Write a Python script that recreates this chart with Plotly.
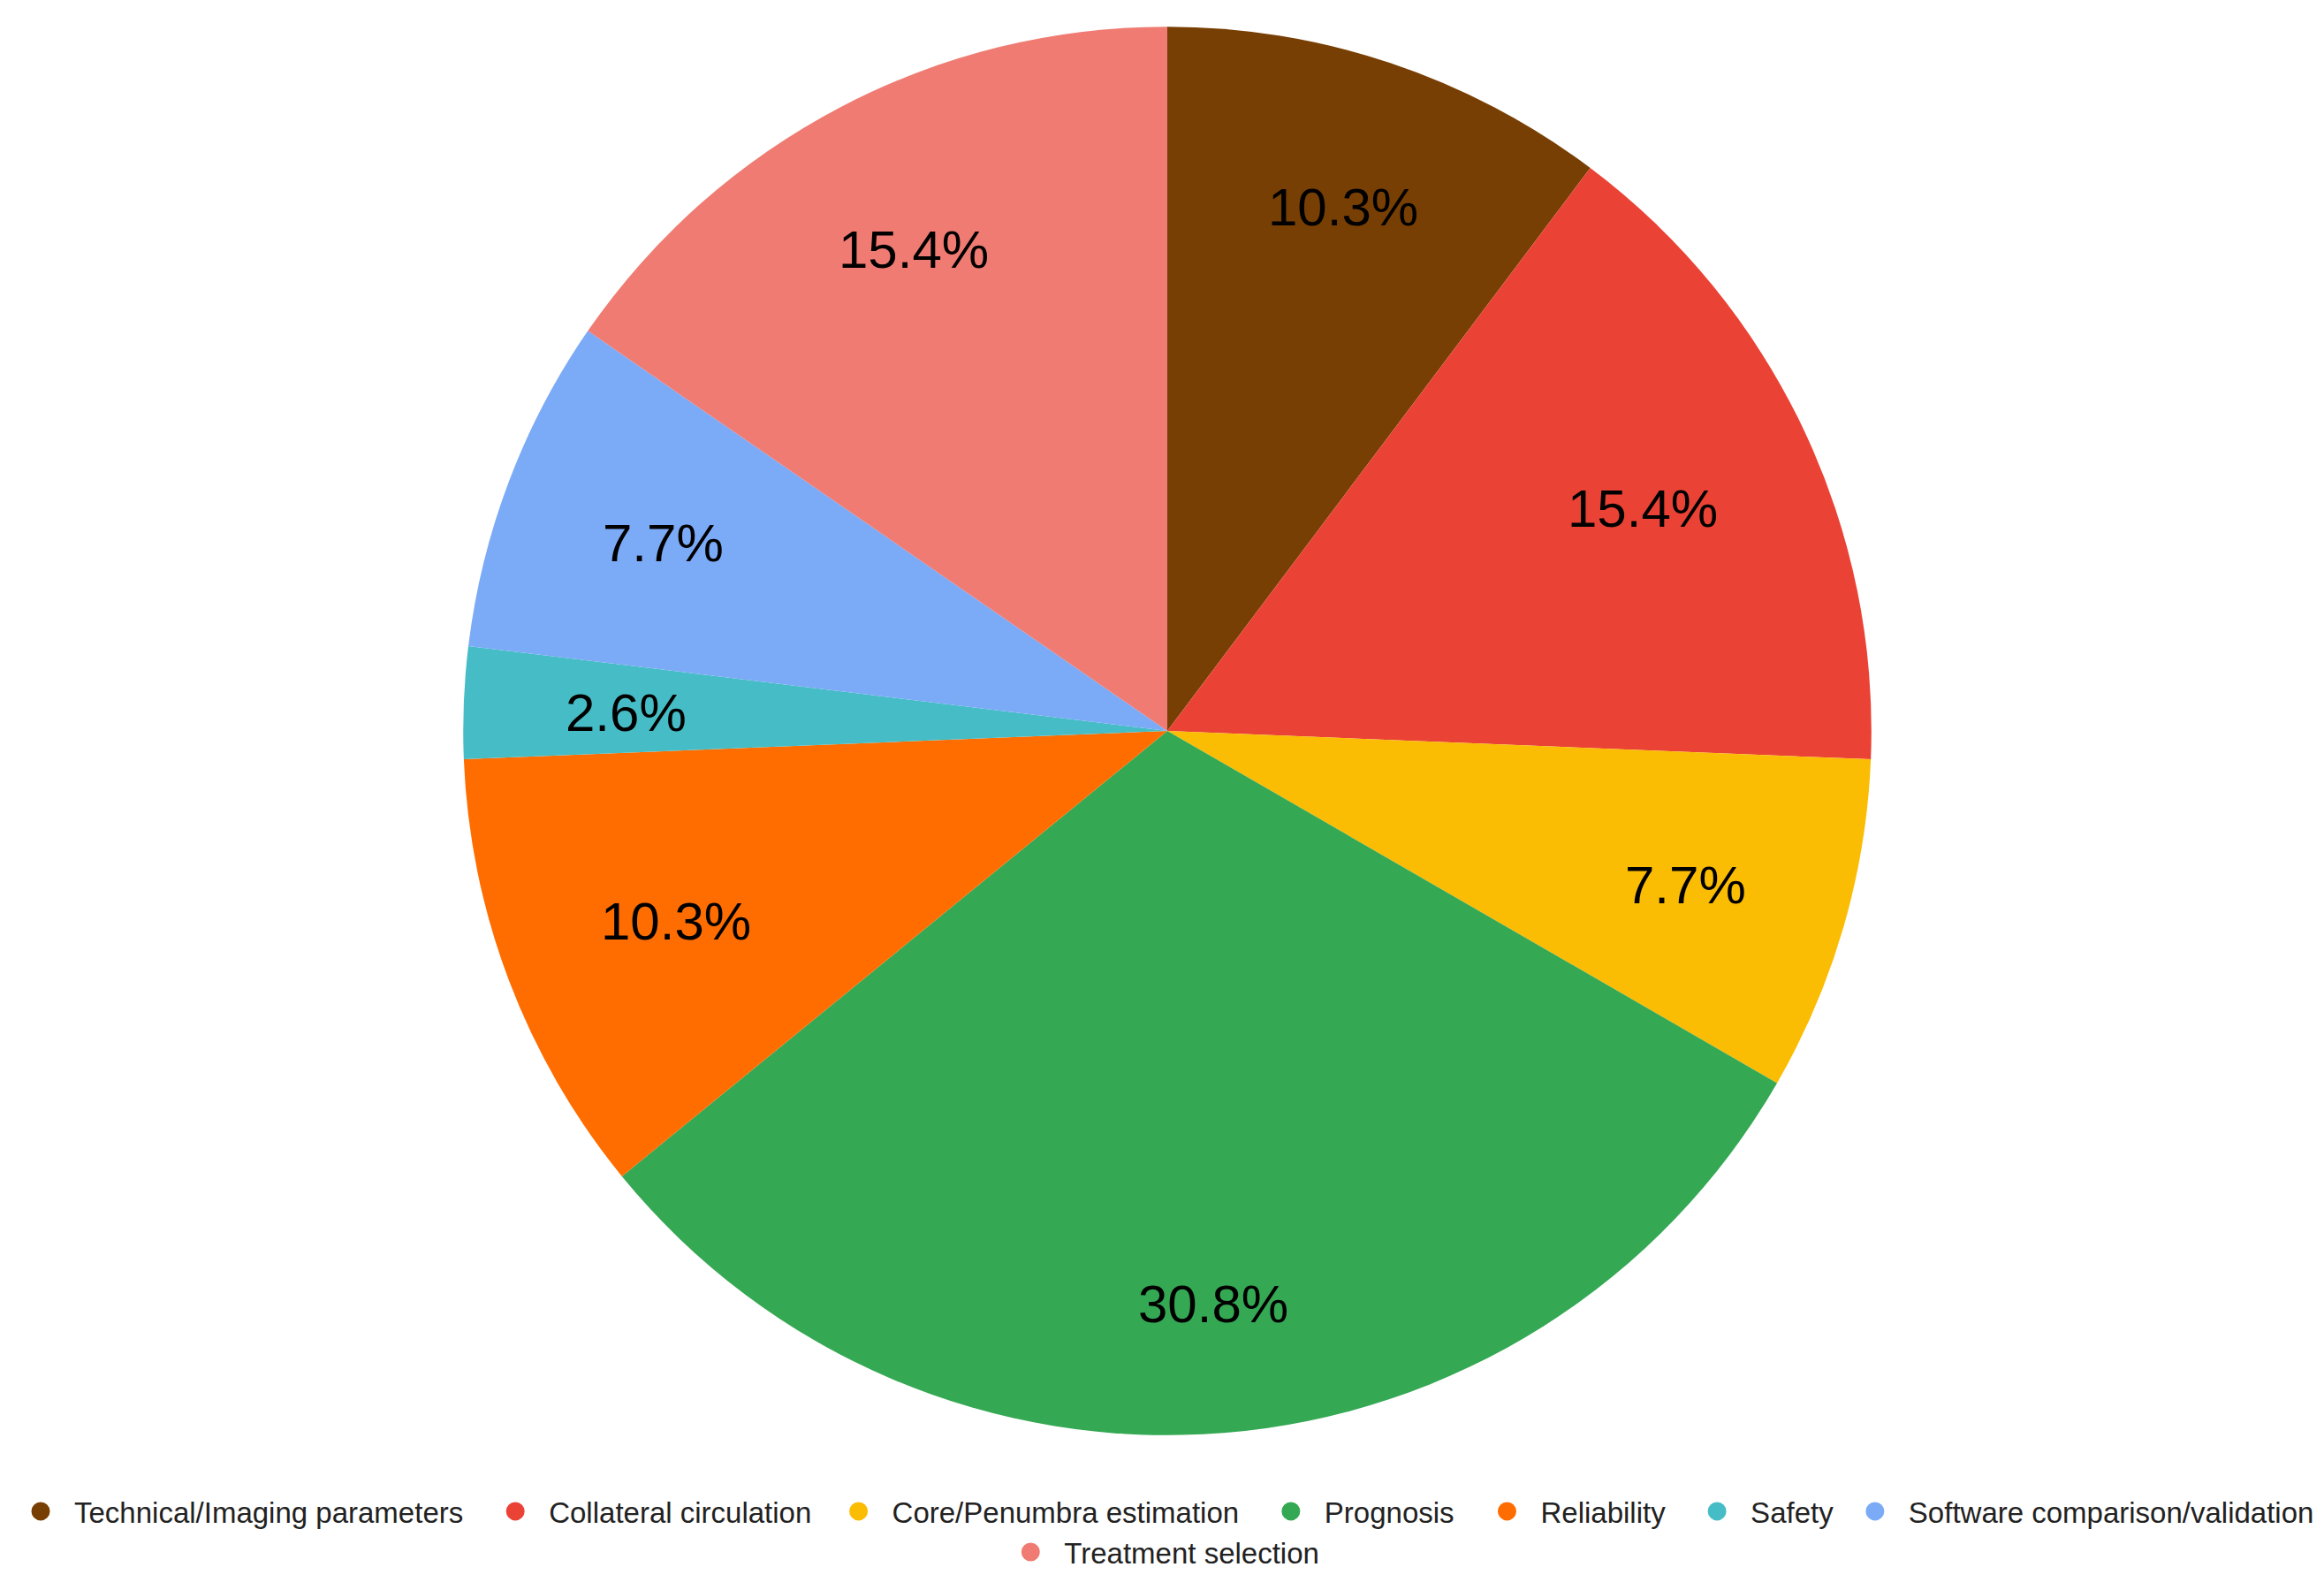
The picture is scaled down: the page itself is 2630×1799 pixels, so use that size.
import math
import plotly.graph_objects as go

categories = ["Technical/Imaging parameters", "Collateral circulation", "Core/Penumbra estimation",
              "Prognosis", "Reliability", "Safety", "Software comparison/validation", "Treatment selection"]
counts = [4, 6, 3, 12, 4, 1, 3, 6]
colors = ["#783F04", "#EA4335", "#FBBC04", "#34A853", "#FF6D01", "#46BDC6", "#7BAAF7", "#F07B72"]

W, H = 2630, 1799
cx, cy, r = 1311, 819, 798
FS = 60

fig = go.Figure()
fig.add_trace(go.Pie(
    labels=categories, values=counts, sort=False, direction="clockwise", rotation=0,
    marker=dict(colors=colors, line=dict(width=0)),
    textinfo="none", hoverinfo="label+percent",
    showlegend=False,
    domain=dict(x=[(cx - r) / W, (cx + r) / W], y=[(H - cy - r) / H, (H - cy + r) / H]),
))

# percentage labels placed along each slice bisector (derived from the values)
total = sum(counts)
cum = 0
R_out = 0.857 * r
for v in counts:
    mid = (cum + v / 2) / total * 2 * math.pi
    cum += v
    txt = f"{v / total * 100:.1f}%"
    ux, uy = math.sin(mid), -math.cos(mid)  # screen coords (y down)
    hw = 0.5 * FS * sum(0.889 if ch == "%" else (0.278 if ch == "." else 0.556) for ch in txt)
    hh = 25
    c = (hw * (1 if ux >= 0 else -1), hh * (1 if uy >= 0 else -1))
    b = ux * c[0] + uy * c[1]
    cc = c[0] ** 2 + c[1] ** 2 - R_out ** 2
    d = -b + math.sqrt(b * b - cc)
    px, py = cx + d * ux, cy + d * uy + 4
    fig.add_annotation(x=px / W, y=1 - py / H, xref="paper", yref="paper", text=txt,
                       showarrow=False, xanchor="center", yanchor="middle",
                       font=dict(family="Arial, Liberation Sans", size=FS, color="#000000"))

# legend: one legend box per entry so that spacing follows the reference layout
legend_marker_x = [42, 580, 969, 1459, 1704, 1942, 2121, 1164]   # px, marker centres
legend_row_y = [0.0695, 0.0695, 0.0695, 0.0695, 0.0695, 0.0695, 0.0695, 0.0439]
ITEMW = 66
layout_legends = {}
for i, (name, col) in enumerate(zip(categories, colors)):
    key = "legend" if i == 0 else f"legend{i + 1}"
    fig.add_trace(go.Scatter(x=[None], y=[None], mode="markers", name=name, legend=key,
                             marker=dict(symbol="circle", size=16, color=col,
                                         line=dict(color=col, width=5))))
    layout_legends[key] = dict(
        orientation="h", x=(legend_marker_x[i] - 8 - (ITEMW / 2 + 5)) / W, xanchor="left",
        y=legend_row_y[i], yanchor="top", itemwidth=ITEMW, borderwidth=0,
        bgcolor="rgba(0,0,0,0)",
        font=dict(family="Arial, Liberation Sans", size=33, color="#222222"))

fig.update_layout(
    width=W, height=H, margin=dict(l=0, r=0, t=0, b=0),
    paper_bgcolor="white", plot_bgcolor="white",
    xaxis=dict(visible=False), yaxis=dict(visible=False),
    **layout_legends,
)
fig.write_html("out.html")
